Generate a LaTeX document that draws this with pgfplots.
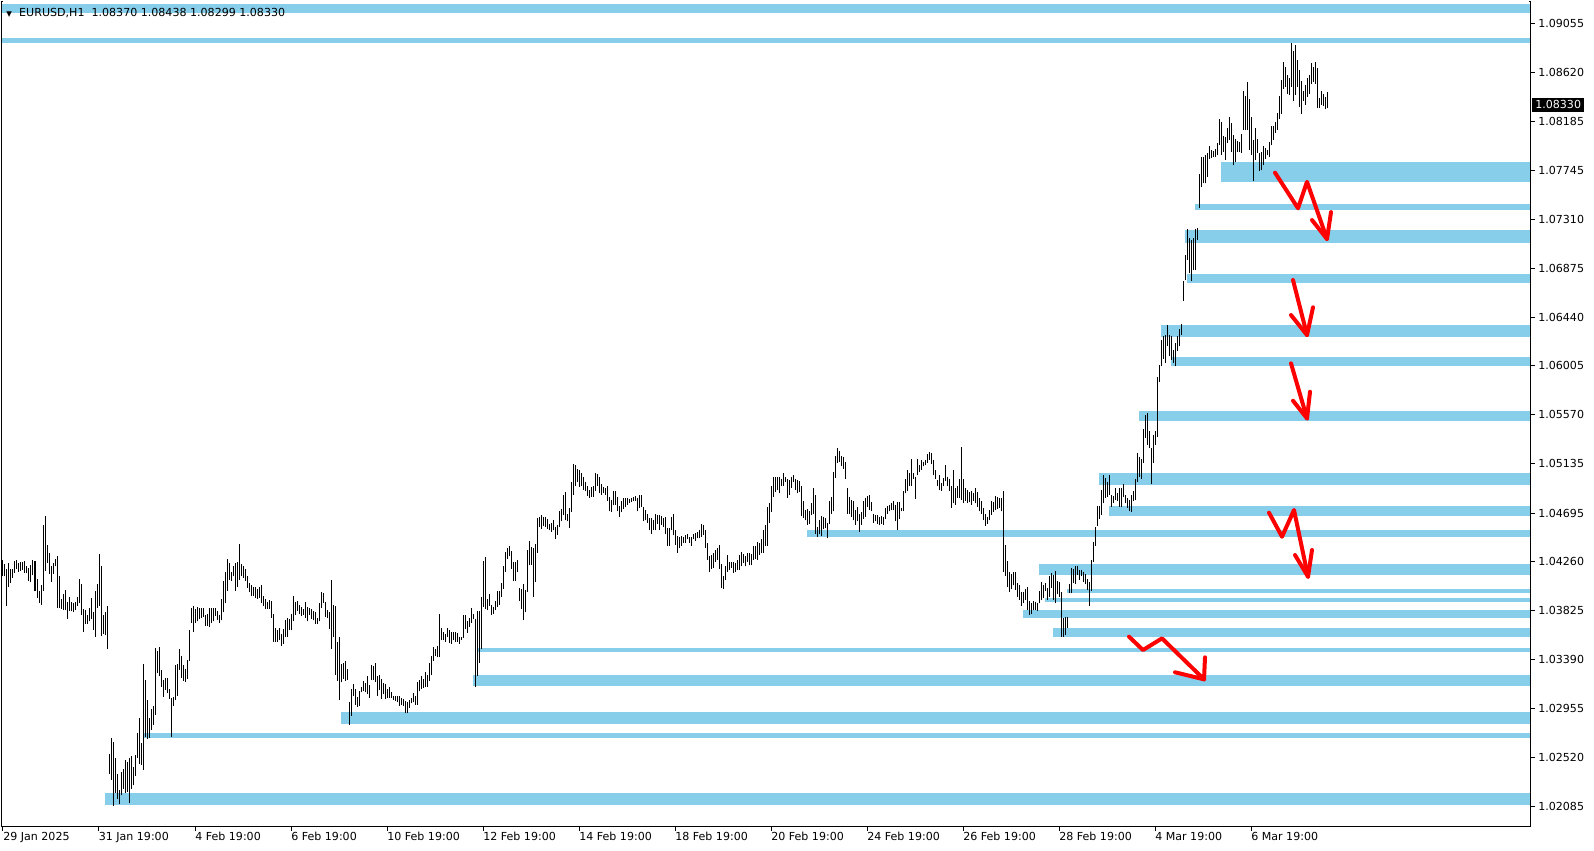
\documentclass[border=0pt]{standalone}
\usepackage{fontspec}
\setmainfont{DejaVu Sans}
\usepackage{pgfplots}
\usepackage{pgfplotstable}
\pgfplotsset{compat=1.18}

\definecolor{zone}{RGB}{135,206,235}
\definecolor{pen}{RGB}{255,0,0}
\newcommand{\lbl}{\fontsize{8.3}{10}\selectfont}
\pgfplotsset{arr/.style={draw=pen, line width=3pt, line join=round, line cap=round, mark=none, forget plot}}
% one horizontal zone: start x, low price, high price
\newcommand{\zone}[3]{\addplot[fill=zone, draw=none, forget plot] coordinates {(#1,#2) (1530,#2) (1530,#3) (#1,#3)} -- cycle;}

% EURUSD H1 bars: x position (2 units per hour), low, high
\pgfplotstableread{
x lo hi
3 1.0413 1.0428
5 1.0413 1.0424
7 1.0387 1.0420
9 1.0404 1.0425
11 1.0407 1.0420
13 1.0412 1.0420
15 1.0416 1.0427
17 1.0420 1.0428
19 1.0417 1.0425
21 1.0418 1.0426
23 1.0419 1.0426
25 1.0416 1.0427
27 1.0416 1.0422
29 1.0409 1.0421
31 1.0408 1.0423
33 1.0414 1.0428
35 1.0400 1.0427
37 1.0394 1.0411
39 1.0389 1.0400
41 1.0388 1.0405
43 1.0400 1.0459
45 1.0418 1.0467
47 1.0425 1.0441
49 1.0415 1.0434
51 1.0408 1.0422
53 1.0415 1.0425
55 1.0422 1.0429
57 1.0385 1.0431
59 1.0385 1.0413
61 1.0384 1.0393
63 1.0383 1.0397
65 1.0383 1.0401
67 1.0375 1.0390
69 1.0382 1.0395
71 1.0382 1.0390
73 1.0381 1.0389
75 1.0383 1.0390
77 1.0387 1.0395
79 1.0389 1.0411
81 1.0379 1.0406
83 1.0364 1.0384
85 1.0371 1.0383
87 1.0371 1.0379
89 1.0373 1.0385
91 1.0375 1.0394
93 1.0365 1.0381
95 1.0359 1.0400
97 1.0385 1.0406
99 1.0387 1.0433
101 1.0360 1.0422
103 1.0362 1.0379
105 1.0361 1.0381
107 1.0348 1.0387
109 1.0237 1.0255
111 1.0232 1.0269
113 1.0209 1.0266
115 1.0220 1.0251
117 1.0215 1.0237
119 1.0210 1.0223
121 1.0218 1.0239
123 1.0224 1.0242
125 1.0220 1.0250
127 1.0221 1.0248
129 1.0211 1.0251
131 1.0224 1.0253
133 1.0227 1.0243
135 1.0235 1.0254
137 1.0251 1.0274
139 1.0246 1.0287
141 1.0245 1.0265
143 1.0241 1.0335
145 1.0270 1.0321
147 1.0268 1.0303
149 1.0269 1.0287
151 1.0276 1.0295
153 1.0281 1.0298
155 1.0290 1.0349
157 1.0327 1.0347
159 1.0324 1.0350
161 1.0315 1.0330
163 1.0306 1.0321
165 1.0312 1.0323
167 1.0309 1.0323
169 1.0304 1.0313
171 1.0270 1.0305
173 1.0298 1.0306
175 1.0303 1.0334
177 1.0307 1.0335
179 1.0330 1.0348
181 1.0323 1.0342
183 1.0320 1.0334
185 1.0319 1.0331
187 1.0322 1.0339
189 1.0338 1.0365
191 1.0372 1.0385
193 1.0364 1.0387
195 1.0372 1.0384
197 1.0373 1.0386
199 1.0375 1.0385
201 1.0376 1.0385
203 1.0377 1.0385
205 1.0369 1.0379
207 1.0369 1.0380
209 1.0368 1.0385
211 1.0372 1.0385
213 1.0373 1.0385
215 1.0378 1.0385
217 1.0374 1.0382
219 1.0372 1.0379
221 1.0374 1.0393
223 1.0381 1.0409
225 1.0389 1.0417
227 1.0400 1.0429
229 1.0410 1.0425
231 1.0409 1.0417
233 1.0413 1.0422
235 1.0400 1.0425
237 1.0404 1.0426
239 1.0410 1.0442
241 1.0413 1.0424
243 1.0412 1.0422
245 1.0409 1.0420
247 1.0403 1.0413
249 1.0399 1.0407
251 1.0396 1.0405
253 1.0396 1.0404
255 1.0394 1.0404
257 1.0393 1.0402
259 1.0394 1.0404
261 1.0389 1.0405
263 1.0387 1.0396
265 1.0384 1.0393
267 1.0384 1.0390
269 1.0384 1.0392
271 1.0376 1.0391
273 1.0355 1.0380
275 1.0355 1.0367
277 1.0355 1.0365
279 1.0356 1.0367
281 1.0351 1.0362
283 1.0353 1.0366
285 1.0359 1.0374
287 1.0359 1.0376
289 1.0365 1.0375
291 1.0365 1.0380
293 1.0373 1.0396
295 1.0379 1.0390
297 1.0382 1.0391
299 1.0380 1.0388
301 1.0378 1.0386
303 1.0379 1.0384
305 1.0376 1.0390
307 1.0373 1.0386
309 1.0379 1.0385
311 1.0375 1.0384
313 1.0374 1.0382
315 1.0371 1.0381
317 1.0371 1.0376
319 1.0373 1.0389
321 1.0385 1.0399
323 1.0389 1.0398
325 1.0377 1.0390
327 1.0376 1.0383
329 1.0366 1.0381
331 1.0348 1.0410
333 1.0359 1.0388
335 1.0325 1.0387
337 1.0320 1.0355
339 1.0303 1.0359
341 1.0319 1.0335
343 1.0322 1.0336
345 1.0320 1.0338
347 1.0321 1.0331
349 1.0281 1.0301
351 1.0289 1.0313
353 1.0307 1.0317
355 1.0299 1.0313
357 1.0297 1.0306
359 1.0298 1.0311
361 1.0310 1.0315
363 1.0311 1.0320
365 1.0310 1.0318
367 1.0308 1.0324
369 1.0305 1.0316
371 1.0321 1.0334
373 1.0321 1.0333
375 1.0319 1.0336
377 1.0307 1.0324
379 1.0312 1.0325
381 1.0304 1.0322
383 1.0308 1.0318
385 1.0304 1.0317
387 1.0305 1.0313
389 1.0305 1.0315
391 1.0305 1.0310
393 1.0303 1.0307
395 1.0302 1.0307
397 1.0301 1.0307
399 1.0298 1.0307
401 1.0299 1.0305
403 1.0298 1.0304
405 1.0291 1.0302
407 1.0291 1.0301
409 1.0296 1.0303
411 1.0300 1.0305
413 1.0301 1.0309
415 1.0299 1.0307
417 1.0299 1.0319
419 1.0311 1.0321
421 1.0313 1.0324
423 1.0314 1.0322
425 1.0315 1.0328
427 1.0315 1.0325
429 1.0320 1.0336
431 1.0325 1.0342
433 1.0338 1.0350
435 1.0342 1.0348
437 1.0341 1.0351
439 1.0341 1.0380
441 1.0356 1.0367
443 1.0356 1.0364
445 1.0355 1.0362
447 1.0359 1.0367
449 1.0354 1.0365
451 1.0353 1.0364
453 1.0356 1.0364
455 1.0355 1.0364
457 1.0355 1.0363
459 1.0353 1.0359
461 1.0356 1.0359
463 1.0358 1.0379
465 1.0366 1.0379
467 1.0363 1.0373
469 1.0368 1.0376
471 1.0372 1.0385
473 1.0375 1.0380
475 1.0315 1.0375
477 1.0324 1.0382
479 1.0336 1.0382
481 1.0348 1.0395
483 1.0386 1.0427
485 1.0384 1.0430
487 1.0383 1.0393
489 1.0387 1.0397
491 1.0379 1.0388
493 1.0380 1.0386
495 1.0383 1.0391
497 1.0386 1.0400
499 1.0388 1.0400
501 1.0395 1.0407
503 1.0402 1.0422
505 1.0417 1.0435
507 1.0429 1.0438
509 1.0431 1.0440
511 1.0420 1.0436
513 1.0409 1.0426
515 1.0409 1.0426
517 1.0417 1.0428
519 1.0391 1.0403
521 1.0384 1.0402
523 1.0374 1.0406
525 1.0381 1.0401
527 1.0399 1.0437
529 1.0423 1.0445
531 1.0423 1.0439
533 1.0395 1.0438
535 1.0408 1.0442
537 1.0434 1.0465
539 1.0457 1.0466
541 1.0455 1.0468
543 1.0458 1.0466
545 1.0457 1.0466
547 1.0455 1.0464
549 1.0454 1.0460
551 1.0453 1.0461
553 1.0454 1.0463
555 1.0446 1.0457
557 1.0450 1.0459
559 1.0457 1.0471
561 1.0462 1.0473
563 1.0468 1.0486
565 1.0463 1.0488
567 1.0462 1.0469
569 1.0456 1.0474
571 1.0470 1.0497
573 1.0486 1.0513
575 1.0494 1.0512
577 1.0497 1.0509
579 1.0493 1.0508
581 1.0494 1.0505
583 1.0490 1.0502
585 1.0489 1.0497
587 1.0485 1.0494
589 1.0483 1.0490
591 1.0484 1.0493
593 1.0484 1.0494
595 1.0489 1.0505
597 1.0494 1.0504
599 1.0487 1.0502
601 1.0486 1.0495
603 1.0487 1.0493
605 1.0486 1.0492
607 1.0480 1.0494
609 1.0471 1.0484
611 1.0470 1.0481
613 1.0477 1.0489
615 1.0477 1.0489
617 1.0471 1.0484
619 1.0466 1.0476
621 1.0470 1.0480
623 1.0473 1.0483
625 1.0475 1.0483
627 1.0477 1.0483
629 1.0478 1.0482
631 1.0479 1.0483
633 1.0480 1.0484
635 1.0480 1.0485
637 1.0471 1.0483
639 1.0474 1.0486
641 1.0475 1.0486
643 1.0462 1.0475
645 1.0463 1.0472
647 1.0461 1.0469
649 1.0454 1.0465
651 1.0451 1.0465
653 1.0454 1.0463
655 1.0454 1.0469
657 1.0460 1.0468
659 1.0454 1.0468
661 1.0459 1.0467
663 1.0457 1.0465
665 1.0451 1.0466
667 1.0440 1.0456
669 1.0440 1.0456
671 1.0454 1.0466
673 1.0450 1.0469
675 1.0441 1.0454
677 1.0434 1.0449
679 1.0438 1.0448
681 1.0440 1.0449
683 1.0443 1.0448
685 1.0443 1.0450
687 1.0446 1.0451
689 1.0443 1.0448
691 1.0440 1.0448
693 1.0446 1.0451
695 1.0445 1.0452
697 1.0447 1.0453
699 1.0447 1.0454
701 1.0448 1.0460
703 1.0450 1.0459
705 1.0438 1.0454
707 1.0428 1.0443
709 1.0417 1.0431
711 1.0420 1.0432
713 1.0421 1.0434
715 1.0426 1.0437
717 1.0428 1.0438
719 1.0420 1.0441
721 1.0403 1.0424
723 1.0402 1.0413
725 1.0410 1.0422
727 1.0417 1.0432
729 1.0419 1.0426
731 1.0421 1.0426
733 1.0416 1.0426
735 1.0417 1.0425
737 1.0419 1.0428
739 1.0419 1.0432
741 1.0422 1.0435
743 1.0425 1.0433
745 1.0422 1.0431
747 1.0426 1.0434
749 1.0423 1.0434
751 1.0423 1.0433
753 1.0428 1.0440
755 1.0429 1.0440
757 1.0428 1.0444
759 1.0432 1.0443
761 1.0434 1.0446
763 1.0434 1.0454
765 1.0440 1.0459
767 1.0440 1.0475
769 1.0461 1.0478
771 1.0470 1.0494
773 1.0484 1.0502
775 1.0488 1.0502
777 1.0490 1.0502
779 1.0487 1.0502
781 1.0494 1.0500
783 1.0494 1.0505
785 1.0497 1.0502
787 1.0483 1.0500
789 1.0486 1.0499
791 1.0492 1.0502
793 1.0497 1.0503
795 1.0490 1.0500
797 1.0487 1.0499
799 1.0488 1.0498
801 1.0467 1.0494
803 1.0465 1.0480
805 1.0463 1.0472
807 1.0459 1.0473
809 1.0460 1.0471
811 1.0468 1.0478
813 1.0469 1.0492
815 1.0451 1.0486
817 1.0448 1.0457
819 1.0451 1.0463
821 1.0449 1.0467
823 1.0455 1.0466
825 1.0456 1.0465
827 1.0447 1.0461
829 1.0460 1.0480
831 1.0469 1.0484
833 1.0471 1.0506
835 1.0501 1.0520
837 1.0514 1.0527
839 1.0515 1.0525
841 1.0511 1.0520
843 1.0509 1.0519
845 1.0500 1.0515
847 1.0469 1.0492
849 1.0469 1.0484
851 1.0466 1.0481
853 1.0463 1.0480
855 1.0459 1.0472
857 1.0462 1.0475
859 1.0453 1.0469
861 1.0459 1.0470
863 1.0464 1.0480
865 1.0466 1.0483
867 1.0475 1.0485
869 1.0472 1.0486
871 1.0471 1.0479
873 1.0461 1.0469
875 1.0462 1.0468
877 1.0460 1.0468
879 1.0459 1.0466
881 1.0460 1.0467
883 1.0459 1.0466
885 1.0464 1.0474
887 1.0469 1.0476
889 1.0471 1.0477
891 1.0472 1.0478
893 1.0472 1.0480
895 1.0462 1.0477
897 1.0454 1.0479
899 1.0464 1.0479
901 1.0471 1.0474
903 1.0471 1.0489
905 1.0487 1.0500
907 1.0489 1.0508
909 1.0494 1.0505
911 1.0494 1.0518
913 1.0500 1.0505
915 1.0482 1.0502
917 1.0503 1.0518
919 1.0506 1.0512
921 1.0508 1.0517
923 1.0511 1.0515
925 1.0512 1.0517
927 1.0514 1.0522
929 1.0517 1.0524
931 1.0513 1.0523
933 1.0503 1.0517
935 1.0500 1.0508
937 1.0494 1.0499
939 1.0490 1.0503
941 1.0489 1.0496
943 1.0494 1.0501
945 1.0498 1.0512
947 1.0494 1.0502
949 1.0489 1.0500
951 1.0474 1.0494
953 1.0478 1.0508
955 1.0477 1.0492
957 1.0483 1.0494
959 1.0483 1.0500
961 1.0481 1.0528
963 1.0478 1.0500
965 1.0480 1.0492
967 1.0478 1.0490
969 1.0479 1.0488
971 1.0477 1.0489
973 1.0480 1.0487
975 1.0478 1.0492
977 1.0475 1.0488
979 1.0471 1.0483
981 1.0469 1.0480
983 1.0463 1.0474
985 1.0458 1.0469
987 1.0460 1.0466
989 1.0463 1.0472
991 1.0468 1.0480
993 1.0470 1.0479
995 1.0472 1.0485
997 1.0473 1.0484
999 1.0474 1.0483
1001 1.0471 1.0483
1003 1.0417 1.0489
1005 1.0413 1.0441
1007 1.0404 1.0427
1009 1.0399 1.0417
1011 1.0402 1.0415
1013 1.0405 1.0417
1015 1.0401 1.0417
1017 1.0395 1.0407
1019 1.0392 1.0405
1021 1.0387 1.0399
1023 1.0389 1.0399
1025 1.0392 1.0402
1027 1.0383 1.0404
1029 1.0379 1.0391
1031 1.0380 1.0389
1033 1.0383 1.0391
1035 1.0383 1.0390
1037 1.0382 1.0389
1039 1.0389 1.0400
1041 1.0392 1.0408
1043 1.0394 1.0405
1045 1.0400 1.0407
1047 1.0392 1.0403
1049 1.0395 1.0413
1051 1.0403 1.0416
1053 1.0392 1.0414
1055 1.0389 1.0418
1057 1.0397 1.0409
1059 1.0395 1.0408
1061 1.0359 1.0399
1063 1.0359 1.0376
1065 1.0361 1.0377
1067 1.0367 1.0377
1069 1.0398 1.0406
1071 1.0398 1.0421
1073 1.0407 1.0420
1075 1.0406 1.0422
1077 1.0414 1.0422
1079 1.0410 1.0419
1081 1.0413 1.0419
1083 1.0408 1.0417
1085 1.0406 1.0415
1087 1.0401 1.0411
1089 1.0387 1.0408
1091 1.0400 1.0428
1093 1.0426 1.0444
1095 1.0440 1.0457
1097 1.0458 1.0476
1099 1.0464 1.0476
1101 1.0468 1.0490
1103 1.0478 1.0503
1105 1.0483 1.0501
1107 1.0484 1.0497
1109 1.0486 1.0503
1111 1.0475 1.0486
1113 1.0478 1.0485
1115 1.0481 1.0492
1117 1.0480 1.0487
1119 1.0475 1.0492
1121 1.0475 1.0492
1123 1.0484 1.0495
1125 1.0478 1.0486
1127 1.0474 1.0483
1129 1.0471 1.0481
1131 1.0470 1.0486
1133 1.0480 1.0489
1135 1.0481 1.0500
1137 1.0497 1.0523
1139 1.0502 1.0519
1141 1.0500 1.0518
1143 1.0514 1.0544
1145 1.0536 1.0557
1147 1.0530 1.0559
1149 1.0527 1.0543
1151 1.0495 1.0527
1153 1.0514 1.0539
1155 1.0530 1.0543
1157 1.0537 1.0591
1159 1.0586 1.0601
1161 1.0600 1.0624
1163 1.0607 1.0627
1165 1.0603 1.0628
1167 1.0618 1.0637
1169 1.0609 1.0628
1171 1.0606 1.0627
1173 1.0603 1.0615
1175 1.0600 1.0621
1177 1.0614 1.0627
1179 1.0618 1.0633
1181 1.0628 1.0638
1183 1.0658 1.0676
1185 1.0677 1.0699
1187 1.0695 1.0722
1189 1.0683 1.0714
1191 1.0676 1.0713
1193 1.0686 1.0714
1195 1.0686 1.0722
1197 1.0713 1.0723
1199 1.0741 1.0771
1201 1.0760 1.0787
1203 1.0763 1.0787
1205 1.0763 1.0788
1207 1.0769 1.0790
1209 1.0785 1.0796
1211 1.0786 1.0793
1213 1.0787 1.0792
1215 1.0787 1.0794
1217 1.0788 1.0799
1219 1.0797 1.0820
1221 1.0788 1.0818
1223 1.0791 1.0805
1225 1.0784 1.0804
1227 1.0799 1.0812
1229 1.0802 1.0822
1231 1.0791 1.0817
1233 1.0779 1.0806
1235 1.0782 1.0803
1237 1.0791 1.0801
1239 1.0791 1.0800
1241 1.0790 1.0807
1243 1.0811 1.0845
1245 1.0811 1.0841
1247 1.0811 1.0853
1249 1.0793 1.0838
1251 1.0788 1.0822
1253 1.0765 1.0802
1255 1.0784 1.0812
1257 1.0790 1.0803
1259 1.0774 1.0790
1261 1.0775 1.0791
1263 1.0779 1.0796
1265 1.0785 1.0795
1267 1.0788 1.0793
1269 1.0787 1.0800
1271 1.0797 1.0814
1273 1.0802 1.0814
1275 1.0808 1.0818
1277 1.0811 1.0826
1279 1.0820 1.0841
1281 1.0825 1.0855
1283 1.0847 1.0871
1285 1.0849 1.0867
1287 1.0843 1.0860
1289 1.0842 1.0857
1291 1.0849 1.0888
1293 1.0836 1.0881
1295 1.0842 1.0886
1297 1.0849 1.0873
1299 1.0831 1.0864
1301 1.0825 1.0854
1303 1.0836 1.0845
1305 1.0833 1.0851
1307 1.0840 1.0857
1309 1.0843 1.0860
1311 1.0852 1.0870
1313 1.0853 1.0867
1315 1.0852 1.0871
1317 1.0830 1.0866
1319 1.0830 1.0839
1321 1.0833 1.0845
1323 1.0832 1.0843
1325 1.0829 1.0840
1327 1.0830 1.0844
}\bars

\begin{document}
\begin{tikzpicture}
\begin{axis}[
  scale only axis,
  width=1146pt, height=618pt,
  xmin=2, xmax=1530,
  ymin=1.01908, ymax=1.09246,
  axis on top,
  axis line style={black, line width=0.75pt},
  tick align=outside,
  major tick length=3.75pt,
  tick style={black, line width=0.75pt},
  xtick pos=bottom, ytick pos=right,
  yticklabel pos=right,
  scaled y ticks=false,
  xtick={3,98.5,195,291,387,483,579,675,771,867,963,1059,1155,1251},
  xticklabels={29 Jan 2025, 31 Jan 19:00, 4 Feb 19:00, 6 Feb 19:00, 10 Feb 19:00, 12 Feb 19:00, 14 Feb 19:00, 18 Feb 19:00, 20 Feb 19:00, 24 Feb 19:00, 26 Feb 19:00, 28 Feb 19:00, 4 Mar 19:00, 6 Mar 19:00},
  ytick={1.09055,1.08620,1.08185,1.07745,1.07310,1.06875,1.06440,1.06005,1.05570,1.05135,1.04695,1.04260,1.03825,1.03390,1.02955,1.02520,1.02085},
  yticklabels={1.09055,1.08620,1.08185,1.07745,1.07310,1.06875,1.06440,1.06005,1.05570,1.05135,1.04695,1.04260,1.03825,1.03390,1.02955,1.02520,1.02085},
  xticklabel style={anchor=north west, inner sep=0pt, font=\lbl, yshift=-0.75pt},
  yticklabel style={anchor=west, inner sep=0pt, font=\lbl, xshift=2.25pt},
]
% support / resistance zones
\zone{2}{1.09146}{1.09227}
\zone{2}{1.08879}{1.08928}
\zone{1221}{1.07647}{1.07824}
\zone{1195}{1.07398}{1.07444}
\zone{1185}{1.07104}{1.07217}
\zone{1187}{1.06747}{1.06824}
\zone{1161}{1.06267}{1.06371}
\zone{1171}{1.06000}{1.06086}
\zone{1139}{1.05516}{1.05602}
\zone{1099}{1.04941}{1.05054}
\zone{1109}{1.04665}{1.04760}
\zone{807}{1.04479}{1.04547}
\zone{1039}{1.04144}{1.04239}
\zone{1067}{1.03986}{1.04022}
\zone{1045}{1.03900}{1.03941}
\zone{1023}{1.03764}{1.03828}
\zone{1053}{1.03588}{1.03669}
\zone{478}{1.03461}{1.03497}
\zone{473}{1.03158}{1.03253}
\zone{341}{1.02818}{1.02927}
\zone{144}{1.02691}{1.02737}
\zone{105}{1.02099}{1.02203}

% price bars (high-low)
\addplot[draw=none, mark=none, forget plot,
  error bars/.cd, y dir=plus, y explicit, error mark=none,
  error bar style={draw=black, line width=0.75pt, solid}]
  table[x=x, y=lo, y error expr=\thisrow{hi}-\thisrow{lo}] {\bars};

% hand drawn arrows
\addplot[arr] coordinates {(1275,1.07726) (1298,1.07409) (1307,1.07645) (1327,1.07135)};
\addplot[arr] coordinates {(1312,1.07304) (1327,1.07135) (1331,1.07375)};
\addplot[arr] coordinates {(1293,1.06770) (1307,1.06280)};
\addplot[arr] coordinates {(1291,1.06458) (1307,1.06280) (1313,1.06527)};
\addplot[arr] coordinates {(1291,1.06028) (1307,1.05538)};
\addplot[arr] coordinates {(1293,1.05695) (1307,1.05538) (1310,1.05775)};
\addplot[arr] coordinates {(1269,1.04698) (1282,1.04484) (1294,1.04722) (1308,1.04128)};
\addplot[arr] coordinates {(1295,1.04321) (1308,1.04128) (1312,1.04366)};
\addplot[arr] coordinates {(1129,1.03594) (1143,1.03475) (1162,1.03579) (1204,1.03214)};
\addplot[arr] coordinates {(1175,1.03277) (1204,1.03214) (1205,1.03410)};

\coordinate (ll) at (rel axis cs:0,0);
\coordinate (ul) at (rel axis cs:0,1);
\coordinate (ur) at (rel axis cs:1,1);
\coordinate (cp) at (axis cs:1530,1.08330);
\end{axis}
\draw[white, line width=1pt] ([xshift=0.4pt]ul) -- ([xshift=-0.4pt]ur);
\node[anchor=base west, inner sep=0pt, font=\lbl] at ([xshift=3pt, yshift=-11pt]ul)
  {{\fontsize{5.5}{6}\selectfont ▼}\hspace{5.5pt}EURUSD,H1\ \ 1.08370 1.08438 1.08299 1.08330};
\node[anchor=west, fill=black, text=white, font=\lbl, inner xsep=2.25pt, inner ysep=1.9pt]
  at ([xshift=1.5pt]cp) {1.08330};
\pgfresetboundingbox
\path ([xshift=-1.5pt, yshift=-18pt]ll) rectangle ([xshift=48pt, yshift=1.5pt]ur);
\end{tikzpicture}
\end{document}
